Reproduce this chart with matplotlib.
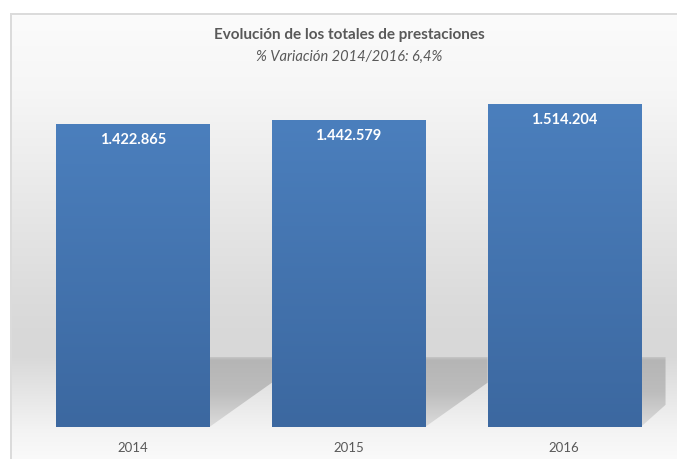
import numpy as np
import matplotlib
matplotlib.use('Agg')
import matplotlib.pyplot as plt
from matplotlib.patches import Polygon

years = ['2014', '2015', '2016']
totals = [1422865, 1442579, 1514204]
title = 'Evolución de los totales de prestaciones'
subtitle = '% Variación 2014/2016: 6,4%'

W, H = 677, 459
plt.rcParams['font.family'] = ['Lato', 'DejaVu Sans']
fig = plt.figure(figsize=(W / 100, H / 100), dpi=100)
fig.patch.set_facecolor('white')

## background: grey gradient "wall" and light "floor"
bg = fig.add_axes([0, 0, 1, 1], zorder=0)
rows = np.arange(H)
keys_y = [0, 13, 90, 200, 300, 330, 357, 430, 459]
keys_v = [1.0, 0.985, 0.965, 0.91, 0.86, 0.85, 0.85, 0.955, 0.98]
prof = np.interp(rows, keys_y, keys_v)
img = np.repeat(prof[:, None], W, axis=1)
img[:13, :] = 1.0
img[:, :11] = 1.0
img[13:15, 10:] = 0.86   # top frame line
img[13:, 10:12] = 0.86   # left frame line
bg.imshow(np.dstack([img] * 3), extent=(0, W, H, 0), aspect='auto', interpolation='bilinear')
bg.set_xlim(0, W)
bg.set_ylim(H, 0)
bg.axis('off')

## main axes
ax = fig.add_axes([25 / W, 32 / H, 647 / W, 341 / H], zorder=1)
ax.patch.set_alpha(0)
ymax = 1.6e6
ax.set_xlim(-0.5, 2.5)
ax.set_ylim(0, ymax)
x = np.arange(len(years))
bw = 0.71

## floor shadows behind bars
shade = np.interp(np.linspace(0, 1, 64), [0, 0.04, 0.5, 1], [0.76, 0.71, 0.74, 0.86])[:, None]
shade_img = np.dstack([np.repeat(shade, 2, axis=1)] * 3)
for i in x:
    x0 = i + bw / 2
    x1 = min(i + 1 - bw / 2, 2.47)
    top = 0.205 * ymax
    y_end = 0.13 * ymax if i < len(x) - 1 else 0.065 * ymax
    poly = Polygon([(x0, top), (x1, top), (x1, y_end), (x0, 0)], closed=True,
                   transform=ax.transData, facecolor='none', edgecolor='none')
    ax.add_patch(poly)
    im = ax.imshow(shade_img, extent=(x0, x1, 0, top), aspect='auto',
                   interpolation='bilinear', zorder=1)
    im.set_clip_path(poly)

## bars with vertical gradient
bars = ax.bar(x, totals, width=bw, color='#4679b8', zorder=2)
c_top = np.array([75, 127, 189]) / 255
c_bot = np.array([60, 104, 160]) / 255
t = np.linspace(0, 1, 128)[:, None, None]
grad = c_top * (1 - t) + c_bot * t
grad = np.repeat(grad, 2, axis=1)
for b, v in zip(bars, totals):
    gim = ax.imshow(grad, extent=(b.get_x(), b.get_x() + b.get_width(), 0, v),
                    aspect='auto', interpolation='bilinear', zorder=3)
    gim.set_clip_path(b)
    ax.annotate(f'{v:,}'.replace(',', '.'), (b.get_x() + b.get_width() / 2, v),
                xytext=(0, -6.5), textcoords='offset points', ha='center', va='top',
                color='white', fontsize=10.5, fontweight='bold', zorder=4)

ax.set_xticks(x)
ax.set_xticklabels(years, color='#595959', fontsize=9.5)
ax.tick_params(axis='x', length=0, pad=10.5)
ax.set_yticks([])
for s in ax.spines.values():
    s.set_visible(False)

fig.text(349 / W, 1 - 35 / H, title, ha='center', va='center',
         color='#595959', fontsize=11, fontweight='bold')
fig.text(349 / W, 1 - 57 / H, subtitle, ha='center', va='center',
         color='#595959', fontsize=10.5, style='italic')

fig.savefig('out.png', dpi=100)
